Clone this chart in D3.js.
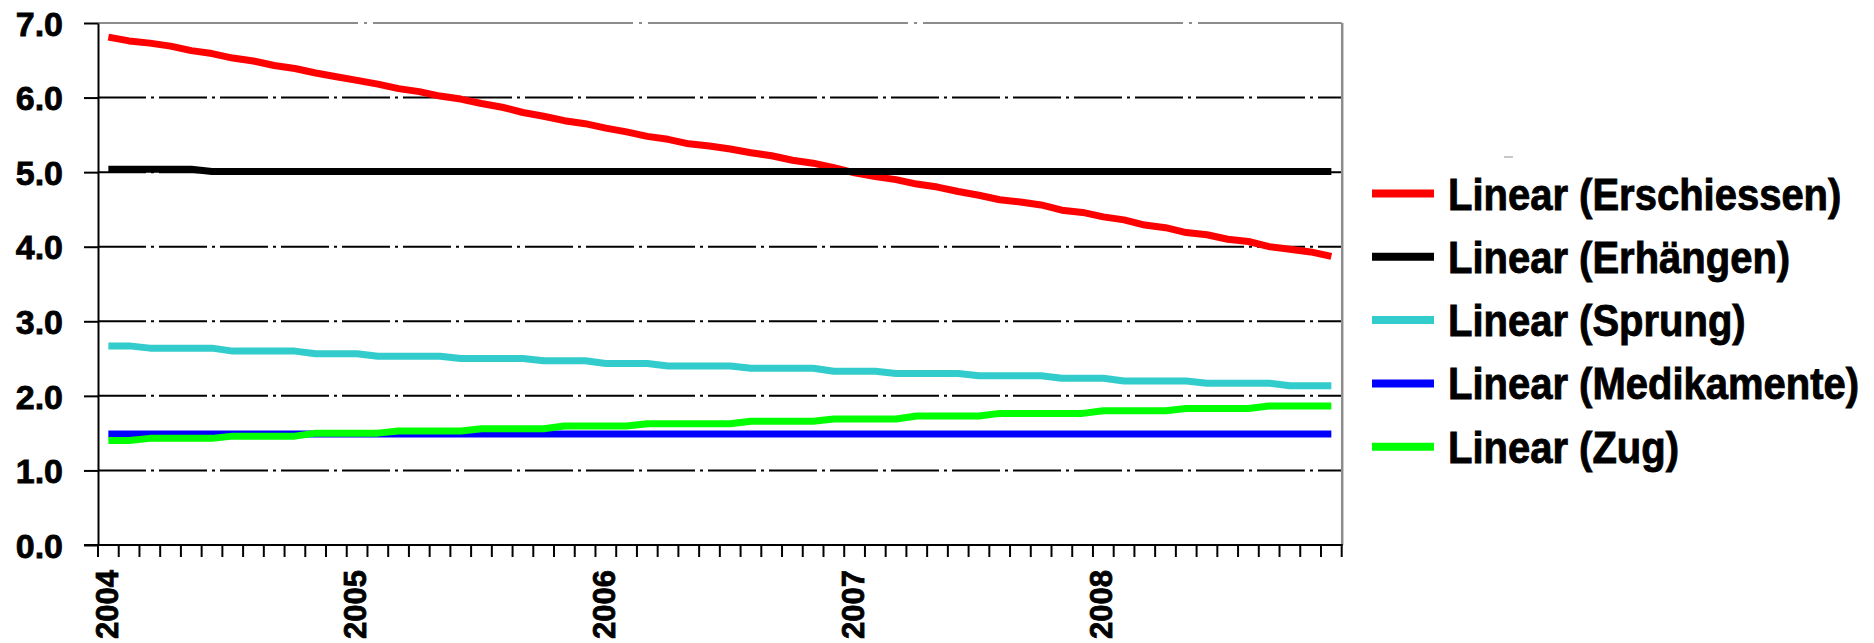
<!DOCTYPE html>
<html><head><meta charset="utf-8">
<script src="https://cdn.jsdelivr.net/npm/d3@7"></script>
<style>
body{margin:0;background:#fff}
svg{display:block}
text{font-family:"Liberation Sans",Arial,Helvetica,sans-serif;font-weight:bold;fill:#000;stroke:#000;stroke-width:0.8px}
</style>
</head><body>
<svg id="chart" width="1874" height="643"></svg>
<script>
// ---------- data ----------
const years = ["2004","2005","2006","2007","2008"];
const monthCodes = ["01","02","03","04","05","06","07","08","09","10","11","12"];
const categories = years.flatMap(yr => monthCodes.map(m => yr + "-" + m));
const xTickLabels = ["2004","2005","2006","2007","2008"];
const yTickValues = [0,1,2,3,4,5,6,7];
const seriesNames = ["Linear (Erschiessen)","Linear (Erhängen)","Linear (Sprung)","Linear (Medikamente)","Linear (Zug)"];
const seriesColors = ["#ff0000","#000000","#33cccc","#0000ff","#00ff00"];

const erschiessen = [6.81,6.76,6.73,6.69,6.63,6.59,6.53,6.49,6.43,6.39,
                     6.33,6.28,6.23,6.18,6.12,6.08,6.02,5.98,5.92,5.87,
                     5.80,5.75,5.69,5.65,5.59,5.54,5.48,5.44,5.38,5.35,
                     5.31,5.26,5.22,5.16,5.12,5.06,4.99,4.94,4.90,4.84,
                     4.80,4.74,4.69,4.63,4.60,4.56,4.49,4.46,4.40,4.36,
                     4.29,4.255,4.19,4.16,4.10,4.07,4.00,3.965,3.93,3.87];
const erhaengen = [5.04,5.04,5.04,5.04,5.04,5.01,5.01,5.01,5.01,5.01,
                   5.01,5.01,5.01,5.01,5.01,5.01,5.01,5.01,5.01,5.01,
                   5.01,5.01,5.01,5.01,5.01,5.01,5.01,5.01,5.01,5.01,
                   5.01,5.01,5.01,5.01,5.01,5.01,5.01,5.01,5.01,5.01,
                   5.01,5.01,5.01,5.01,5.01,5.01,5.01,5.01,5.01,5.01,
                   5.01,5.01,5.01,5.01,5.01,5.01,5.01,5.01,5.01,5.01];
const sprung = [2.67,2.67,2.64,2.64,2.64,2.64,2.60,2.60,2.60,2.60,
                2.565,2.565,2.565,2.53,2.53,2.53,2.53,2.50,2.50,2.50,
                2.50,2.47,2.47,2.47,2.435,2.435,2.435,2.40,2.40,2.40,
                2.40,2.37,2.37,2.37,2.37,2.33,2.33,2.33,2.30,2.30,
                2.30,2.30,2.27,2.27,2.27,2.27,2.235,2.235,2.235,2.20,
                2.20,2.20,2.20,2.17,2.17,2.17,2.17,2.135,2.135,2.135];
const medikamente = [1.49,1.49,1.49,1.49,1.49,1.49,1.49,1.49,1.49,1.49,
                     1.49,1.49,1.49,1.49,1.49,1.49,1.49,1.49,1.49,1.49,
                     1.49,1.49,1.49,1.49,1.49,1.49,1.49,1.49,1.49,1.49,
                     1.49,1.49,1.49,1.49,1.49,1.49,1.49,1.49,1.49,1.49,
                     1.49,1.49,1.49,1.49,1.49,1.49,1.49,1.49,1.49,1.49,
                     1.49,1.49,1.49,1.49,1.49,1.49,1.49,1.49,1.49,1.49];
const zug = [1.40,1.40,1.43,1.43,1.43,1.43,1.46,1.46,1.46,1.46,
             1.50,1.50,1.50,1.50,1.53,1.53,1.53,1.53,1.56,1.56,
             1.56,1.56,1.595,1.595,1.595,1.595,1.625,1.625,1.625,1.625,
             1.625,1.66,1.66,1.66,1.66,1.69,1.69,1.69,1.69,1.73,
             1.73,1.73,1.73,1.765,1.765,1.765,1.765,1.765,1.80,1.80,
             1.80,1.80,1.83,1.83,1.83,1.83,1.865,1.865,1.865,1.865];
const seriesValues = [erschiessen, erhaengen, sprung, medikamente, zug];

// ---------- layout ----------
const svg = d3.select("#chart");
const plotLeft = 98, plotRight = 1341.7, plotTop = 23, plotBottom = 545;
const x = d3.scaleBand().domain(categories).range([plotLeft, plotRight]).padding(0);
const y = d3.scaleLinear().domain([0, 7]).range([plotBottom, plotTop]);
const bw = x.bandwidth();

// gridlines
svg.append("g").selectAll("line")
  .data(yTickValues.filter(v => v > 0))
  .join("line")
  .attr("x1", plotLeft).attr("x2", plotRight)
  .attr("y1", d => y(d)).attr("y2", d => y(d))
  .attr("stroke", d => d === 7 ? "#8c8c8c" : "#000")
  .attr("stroke-width", 2)
  .attr("stroke-dasharray", d => d === 7 ? "260,6,3,6" : "48,5,3,5");

// right border
svg.append("line")
  .attr("x1", plotRight + 0.5).attr("x2", plotRight + 0.5)
  .attr("y1", plotTop).attr("y2", plotBottom)
  .attr("stroke", "#8c8c8c").attr("stroke-width", 2.5);

// y axis
const yAxis = svg.append("g")
  .attr("transform", `translate(${plotLeft},0)`)
  .call(d3.axisLeft(y).tickValues(yTickValues).tickFormat(d3.format(".1f"))
        .tickSize(14).tickSizeOuter(0).tickPadding(21));
yAxis.attr("font-family", null);
yAxis.select(".domain").attr("stroke", "#000").attr("stroke-width", 2);
yAxis.selectAll(".tick line").attr("stroke", "#000").attr("stroke-width", 2);
yAxis.selectAll(".tick text")
  .style("font-size", "34px").attr("fill", "#000")
  .attr("dy", "0.36em");

// x axis line + ticks at category boundaries
const boundaries = categories.map(c => x(c)).concat([plotRight]);
svg.append("line")
  .attr("x1", plotLeft - 14).attr("x2", plotRight + 1)
  .attr("y1", plotBottom).attr("y2", plotBottom)
  .attr("stroke", "#000").attr("stroke-width", 2);
svg.append("g").selectAll("line")
  .data(boundaries).join("line")
  .attr("x1", d => d).attr("x2", d => d)
  .attr("y1", plotBottom).attr("y2", plotBottom + 12)
  .attr("stroke", "#000").attr("stroke-width", 2);

// x labels (January of each year)
const xAxis = svg.append("g")
  .attr("transform", `translate(0,${plotBottom})`)
  .call(d3.axisBottom(x)
        .tickValues(xTickLabels.map(yr => yr + "-01"))
        .tickFormat(d => d.slice(0, 4))
        .tickSize(0));
xAxis.attr("font-family", null);
xAxis.select(".domain").remove();
xAxis.selectAll(".tick text")
  .style("font-size", "31px").attr("fill", "#000")
  .attr("text-anchor", "end")
  .attr("transform", "translate(-2,25) rotate(-90)")
  .attr("x", 0).attr("y", 0).attr("dy", "0.36em");

// series lines
const line = d3.line()
  .x((d, i) => x(categories[i]) + bw / 2)
  .y(d => y(d));
svg.append("g").selectAll("path")
  .data(seriesValues).join("path")
  .attr("d", d => line(d))
  .attr("fill", "none")
  .attr("stroke", (d, i) => seriesColors[i])
  .attr("stroke-width", 7)
  .attr("stroke-linejoin", "round")
  .attr("stroke-linecap", "butt");

// legend
const legend = svg.append("g");
legend.append("line")
  .attr("x1", 1504).attr("x2", 1513).attr("y1", 157).attr("y2", 157)
  .attr("stroke", "#c8c8c8").attr("stroke-width", 2);
const rows = legend.selectAll("g").data(seriesNames).join("g")
  .attr("transform", (d, i) => `translate(1372,${209.5 + i * 63.3})`);
rows.append("line")
  .attr("x1", 0).attr("x2", 62)
  .attr("y1", -16).attr("y2", -16)
  .attr("stroke", (d, i) => seriesColors[i])
  .attr("stroke-width", 8);
rows.append("text")
  .attr("transform", "translate(76,0) scale(1,1.12)")
  .style("font-size", "40px")
  .text(d => d);
</script>
</body></html>
